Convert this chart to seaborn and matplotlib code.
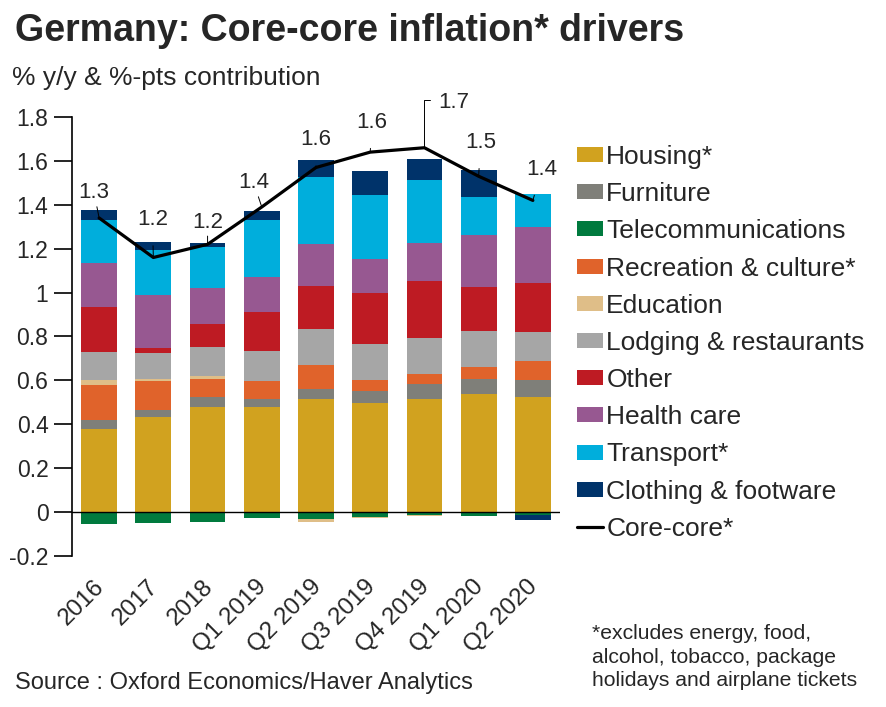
import numpy as np
import matplotlib
matplotlib.use('Agg')
import matplotlib.pyplot as plt
import matplotlib.transforms as mtransforms
from matplotlib.patches import Patch
from matplotlib.lines import Line2D
import seaborn as sns

# --- data ---
categories = ['2016', '2017', '2018', 'Q1 2019', 'Q2 2019', 'Q3 2019', 'Q4 2019', 'Q1 2020', 'Q2 2020']
housing = [0.380, 0.434, 0.480, 0.480, 0.516, 0.498, 0.516, 0.539, 0.526]
furniture = [0.041, 0.032, 0.046, 0.036, 0.046, 0.055, 0.069, 0.069, 0.077]
telecom = [-0.053, -0.049, -0.043, -0.026, -0.033, -0.024, -0.015, -0.017, -0.012]
recreation = [0.159, 0.133, 0.082, 0.083, 0.109, 0.050, 0.045, 0.054, 0.087]
education = [0.023, 0.009, 0.014, 0.0, -0.010, -0.005, -0.005, 0.0, 0.0]
lodging = [0.128, 0.118, 0.128, 0.136, 0.164, 0.164, 0.164, 0.164, 0.132]
other = [0.205, 0.023, 0.105, 0.178, 0.196, 0.233, 0.260, 0.201, 0.223]
health = [0.200, 0.241, 0.164, 0.159, 0.192, 0.155, 0.173, 0.234, 0.252]
transport = [0.196, 0.205, 0.191, 0.260, 0.305, 0.291, 0.288, 0.176, 0.154]
clothing = [0.046, 0.036, 0.018, 0.041, 0.078, 0.110, 0.095, 0.123, -0.023]
core_core = [1.34, 1.16, 1.22, 1.39, 1.57, 1.64, 1.66, 1.53, 1.42]

series_names = ['Housing*', 'Furniture', 'Telecommunications', 'Recreation & culture*',
                'Education', 'Lodging & restaurants', 'Other', 'Health care',
                'Transport*', 'Clothing & footware']
series_vals = [housing, furniture, telecom, recreation, education, lodging,
               other, health, transport, clothing]
colors = ['#D1A21F', '#7F7F79', '#007A3E', '#E0632B', '#DFBE88', '#A6A6A6',
          '#BE1B23', '#975891', '#00AEDC', '#00336A']

# label offsets in pixels (dx, dy) from the line point
label_offsets = [(-5, 25), (-1, 38), (0, 22), (-8, 24), (0, 28), (2, 30), (29, 45), (2, 34), (9, 31)]

sns.set_theme(style='white')
plt.rcParams['font.family'] = ['Liberation Sans', 'DejaVu Sans']

fig = plt.figure(figsize=(8.86, 7.07), dpi=100)
ax = fig.add_axes([0.0813, 0.2136, 0.5507, 0.6209])

x = np.arange(len(categories))
pos_base = np.zeros(len(categories))
neg_base = np.zeros(len(categories))
for name, vals, col in zip(series_names, series_vals, colors):
    vals = np.array(vals)
    bottoms = np.where(vals >= 0, pos_base, neg_base)
    ax.bar(x, vals, bottom=bottoms, width=0.66, color=col, linewidth=0, label=name, zorder=2)
    pos_base = pos_base + np.clip(vals, 0, None)
    neg_base = neg_base + np.clip(vals, None, 0)

sns.lineplot(x=x, y=core_core, ax=ax, color='black', linewidth=2.3, zorder=4, legend=False)

for i, (xi, v, (dx, dy)) in enumerate(zip(x, core_core, label_offsets)):
    if categories[i] == 'Q4 2019':
        # peak label gets an elbow leader: up from the point, then right to the text
        ax.annotate(f'{v:.1f}', xy=(xi, v), xytext=(dx, dy), textcoords='offset pixels',
                    ha='center', va='center', fontsize=16, zorder=5)
        ax.annotate('', xy=(xi, v), xytext=(6, 48), textcoords='offset pixels',
                    arrowprops=dict(arrowstyle='-', color='black', lw=0.7, shrinkA=0, shrinkB=0,
                                    connectionstyle='angle,angleA=0,angleB=90,rad=0'),
                    zorder=5)
    else:
        ax.annotate(f'{v:.1f}', xy=(xi, v), xytext=(dx, dy), textcoords='offset pixels',
                    ha='center', va='center', fontsize=16,
                    arrowprops=dict(arrowstyle='-', color='black', lw=0.7, shrinkA=9, shrinkB=0),
                    zorder=5)

ax.axhline(0, color='black', lw=1, zorder=3)
ax.set_xlim(-0.5, len(categories) - 0.5)
ax.set_ylim(-0.2, 1.8)
ax.set_yticks(np.arange(-0.2, 1.81, 0.2))
ax.set_yticklabels(['-0.2', '0', '0.2', '0.4', '0.6', '0.8', '1', '1.2', '1.4', '1.6', '1.8'])
ax.set_xticks(x)
ax.set_xticklabels(categories, rotation=45, ha='right', rotation_mode='anchor')
ax.tick_params(axis='y', which='major', direction='out', length=13, width=1.2,
               color='black', labelsize=16.5, pad=4, left=True)
ax.tick_params(axis='x', length=0, labelsize=17.5, pad=14)
shift = mtransforms.ScaledTranslation(-6 / 100, 0, fig.dpi_scale_trans)
for lbl in ax.get_xticklabels():
    lbl.set_transform(lbl.get_transform() + shift)
for s in ['top', 'right', 'bottom']:
    ax.spines[s].set_visible(False)
ax.spines['left'].set_color('black')
ax.spines['left'].set_linewidth(1.2)
ax.grid(False)

handles = [Patch(facecolor=c, edgecolor='none') for c in colors]
handles.append(Line2D([0], [0], color='black', lw=2.3))
labels = series_names + ['Core-core*']
fig.legend(handles, labels, loc='upper left', bbox_to_anchor=(0.651, 0.795),
           frameon=False, fontsize=19, handlelength=1.0, handleheight=0.5,
           handletextpad=0.12, labelspacing=0.50, borderaxespad=0, borderpad=0)

fig.text(0.017, 0.956, 'Germany: Core-core inflation* drivers', fontsize=27,
         fontweight='bold', va='center', ha='left')
fig.text(0.014, 0.889, '% y/y & %-pts contribution', fontsize=19, va='center', ha='left')
fig.text(0.017, 0.034, 'Source : Oxford Economics/Haver Analytics', fontsize=17,
         va='center', ha='left')
fig.text(0.668, 0.0707, '*excludes energy, food,\nalcohol, tobacco, package\nholidays and airplane tickets',
         fontsize=15.2, va='center', ha='left', linespacing=1.3)

fig.savefig('out.png', dpi=100)
